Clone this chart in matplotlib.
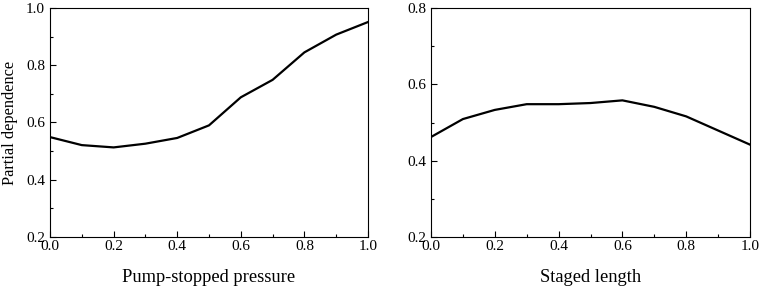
import matplotlib.pyplot as plt
from matplotlib.ticker import MultipleLocator

plt.rcParams['font.family'] = ['Liberation Serif', 'DejaVu Serif']

# partial dependence values
x_vals = [0.0, 0.1, 0.2, 0.3, 0.4, 0.5, 0.6, 0.7, 0.8, 0.9, 1.0]
pd_pressure = [0.549, 0.521, 0.513, 0.526, 0.546, 0.590, 0.688, 0.749, 0.845, 0.907, 0.951]
pd_length = [0.462, 0.509, 0.533, 0.548, 0.548, 0.551, 0.558, 0.541, 0.516, 0.479, 0.442]

fig = plt.figure(figsize=(7.61, 2.90), dpi=100)
ax1 = fig.add_axes([50 / 761, 53 / 290, 318 / 761, 229 / 290])
ax2 = fig.add_axes([431 / 761, 53 / 290, 319 / 761, 229 / 290])

panels = [
    (ax1, pd_pressure, "Pump-stopped pressure", (0.2, 1.0), "Partial dependence"),
    (ax2, pd_length, "Staged length", (0.2, 0.8), None),
]

for ax, y, xlab, ylim, ylab in panels:
    ax.plot(x_vals, y, color='black', lw=1.6)
    ax.set_xlim(0, 1)
    ax.set_ylim(*ylim)
    ax.xaxis.set_major_locator(MultipleLocator(0.2))
    ax.xaxis.set_minor_locator(MultipleLocator(0.1))
    ax.yaxis.set_major_locator(MultipleLocator(0.2))
    ax.yaxis.set_minor_locator(MultipleLocator(0.1))
    ax.xaxis.set_major_formatter(lambda v, p: f"{v:.1f}")
    ax.yaxis.set_major_formatter(lambda v, p: f"{v:.1f}")
    ax.tick_params(which='both', direction='in', top=False, right=False,
                   labelsize=11, width=0.8)
    ax.tick_params(axis='x', which='major', pad=2)
    ax.tick_params(which='major', length=4)
    ax.tick_params(which='minor', length=2.5)
    for s in ax.spines.values():
        s.set_linewidth(0.8)
    ax.set_xlabel(xlab, fontsize=13.3, labelpad=12)
    if ylab:
        ax.set_ylabel(ylab, fontsize=11.8, labelpad=6)

fig.savefig("out.png", dpi=100)
